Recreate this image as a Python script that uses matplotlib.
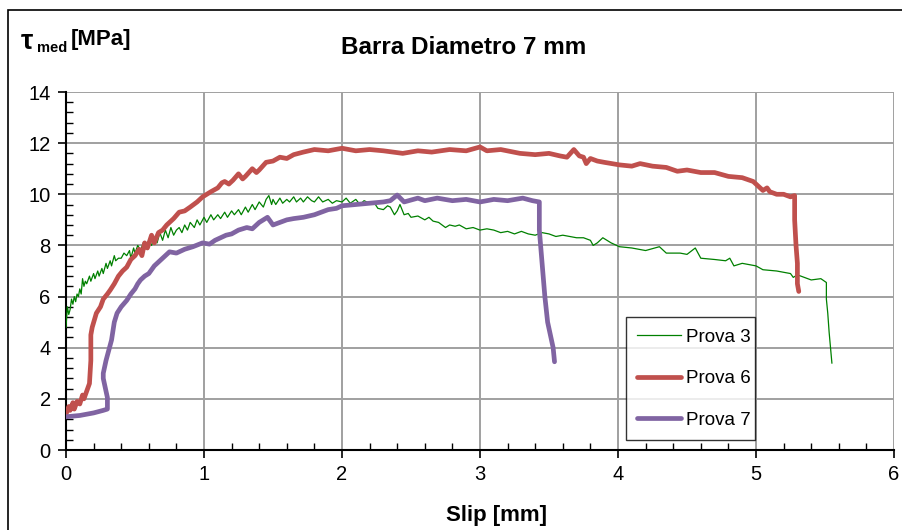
import matplotlib
matplotlib.use("Agg")
import matplotlib.pyplot as plt
from matplotlib.ticker import MultipleLocator
from matplotlib.patches import Rectangle

plt.rcParams['font.family'] = ['Liberation Sans', 'DejaVu Sans']

# slip [mm] / tau_med [MPa]
prova3_x = [0.00, 0.01, 0.02, 0.03, 0.04, 0.05, 0.06, 0.07, 0.08, 0.09, 0.10, 0.11,
            0.12, 0.13, 0.14, 0.15, 0.17, 0.18, 0.20, 0.21, 0.23, 0.24, 0.26, 0.27,
            0.29, 0.30, 0.32, 0.33, 0.35, 0.36, 0.38, 0.40, 0.42, 0.44, 0.46, 0.47,
            0.49, 0.50, 0.52, 0.54, 0.56, 0.58, 0.60, 0.62, 0.64, 0.66, 0.68, 0.70,
            0.72, 0.74, 0.76, 0.78, 0.80, 0.82, 0.84, 0.86, 0.88, 0.90, 0.93, 0.95,
            0.97, 1.00, 1.02, 1.05, 1.07, 1.10, 1.12, 1.15, 1.17, 1.20, 1.22, 1.25,
            1.27, 1.30, 1.32, 1.35, 1.37, 1.40, 1.43, 1.45, 1.47, 1.49, 1.50, 1.52,
            1.55, 1.57, 1.60, 1.62, 1.65, 1.67, 1.70, 1.72, 1.75, 1.78, 1.80, 1.83,
            1.86, 1.90, 1.93, 1.96, 2.00, 2.03, 2.06, 2.10, 2.13, 2.16, 2.20, 2.23,
            2.26, 2.30, 2.33, 2.35, 2.38, 2.40, 2.42, 2.45, 2.48, 2.50, 2.55, 2.60,
            2.63, 2.66, 2.70, 2.75, 2.78, 2.82, 2.85, 2.90, 2.95, 3.00, 3.05, 3.10,
            3.15, 3.20, 3.25, 3.30, 3.35, 3.40, 3.45, 3.50, 3.55, 3.60, 3.65, 3.70,
            3.75, 3.80, 3.82, 3.85, 3.89, 3.95, 4.01, 4.10, 4.20, 4.30, 4.35, 4.45,
            4.50, 4.56, 4.60, 4.70, 4.78, 4.81, 4.84, 4.90, 5.00, 5.05, 5.15, 5.25,
            5.27, 5.30, 5.35, 5.40, 5.47, 5.51, 5.51, 5.52, 5.53, 5.54, 5.55]
prova3_y = [4.8, 5.6, 5.3, 5.5, 5.9, 5.7, 6.0, 5.8, 6.1, 6.0, 6.3, 6.1,
            6.7, 6.4, 6.6, 6.5, 6.8, 6.6, 6.9, 6.7, 7.0, 6.8, 7.1, 6.9,
            7.3, 7.1, 7.4, 7.2, 7.6, 7.4, 7.5, 7.5, 7.7, 7.6, 7.8, 7.5,
            7.9, 7.7, 8.0, 7.8, 8.1, 7.9, 8.2, 8.0, 8.3, 8.1, 8.5, 8.2,
            8.6, 8.3, 8.7, 8.4, 8.6, 8.7, 8.5, 8.8, 8.6, 8.9, 8.7, 9.0,
            8.8, 9.1, 8.9, 9.2, 9.0, 9.2, 9.05, 9.3, 9.1, 9.35, 9.2, 9.4,
            9.2, 9.5, 9.3, 9.6, 9.4, 9.7, 9.5, 9.8, 9.95, 9.6, 9.8, 9.6,
            9.85, 9.65, 9.8, 9.7, 9.9, 9.7, 9.85, 9.7, 9.9, 9.75, 9.7, 9.9,
            9.7, 9.8, 9.65, 9.75, 9.7, 9.85, 9.65, 9.8, 9.6, 9.75, 9.65, 9.7,
            9.45, 9.4, 9.55, 9.5, 9.2, 9.35, 9.6, 9.2, 9.25, 9.1, 9.15, 9.0,
            9.1, 8.95, 8.9, 8.7, 8.8, 8.75, 8.8, 8.65, 8.7, 8.6, 8.65, 8.6,
            8.5, 8.55, 8.45, 8.55, 8.45, 8.4, 8.5, 8.45, 8.35, 8.4, 8.35, 8.3,
            8.3, 8.2, 8.0, 8.1, 8.3, 8.1, 7.95, 7.9, 7.8, 7.95, 7.7, 7.7,
            7.65, 7.9, 7.5, 7.45, 7.4, 7.5, 7.2, 7.3, 7.2, 7.05, 7.0, 6.9,
            6.75, 6.85, 6.75, 6.65, 6.7, 6.55, 5.9, 5.35, 4.6, 4.0, 3.4]

prova6_x = [0.00, 0.02, 0.03, 0.05, 0.06, 0.08, 0.10, 0.12, 0.13, 0.15, 0.17, 0.18,
            0.18, 0.19, 0.22, 0.25, 0.27, 0.30, 0.32, 0.35, 0.38, 0.41, 0.44, 0.47,
            0.50, 0.53, 0.55, 0.57, 0.59, 0.62, 0.64, 0.67, 0.70, 0.73, 0.75, 0.78,
            0.82, 0.86, 0.90, 0.95, 0.99, 1.05, 1.10, 1.13, 1.15, 1.18, 1.21, 1.25,
            1.28, 1.30, 1.35, 1.38, 1.40, 1.45, 1.50, 1.55, 1.60, 1.65, 1.72, 1.80,
            1.90, 2.00, 2.10, 2.20, 2.30, 2.44, 2.55, 2.65, 2.78, 2.90, 3.00, 3.05,
            3.15, 3.29, 3.40, 3.50, 3.58, 3.63, 3.68, 3.72, 3.75, 3.77, 3.80, 3.85,
            3.90, 4.01, 4.10, 4.16, 4.25, 4.35, 4.43, 4.50, 4.60, 4.70, 4.80, 4.90,
            4.98, 5.05, 5.08, 5.10, 5.15, 5.20, 5.25, 5.28, 5.28, 5.29, 5.30, 5.30,
            5.31]
prova6_y = [1.4, 1.7, 1.55, 1.85, 1.6, 1.9, 1.8, 2.15, 2.0, 2.3, 2.6, 3.5,
            4.5, 4.8, 5.35, 5.6, 5.9, 6.1, 6.25, 6.5, 6.8, 7.0, 7.15, 7.45,
            7.6, 7.85, 7.6, 8.1, 7.9, 8.4, 8.1, 8.5, 8.6, 8.8, 8.9, 9.05,
            9.3, 9.35, 9.5, 9.7, 9.9, 10.1, 10.25, 10.45, 10.5, 10.4, 10.55, 10.8,
            10.6, 10.7, 11.0, 10.85, 10.95, 11.25, 11.3, 11.45, 11.4, 11.55, 11.65, 11.75,
            11.7, 11.8, 11.7, 11.75, 11.7, 11.6, 11.7, 11.65, 11.75, 11.7, 11.85, 11.7,
            11.75, 11.6, 11.55, 11.6, 11.5, 11.45, 11.75, 11.5, 11.45, 11.2, 11.4, 11.3,
            11.25, 11.15, 11.1, 11.2, 11.1, 11.05, 10.9, 10.95, 10.85, 10.85, 10.7, 10.65,
            10.5, 10.15, 10.25, 10.1, 10.0, 10.0, 9.9, 9.95, 9.0, 8.0, 7.3, 6.5,
            6.2]

prova7_x = [0.00, 0.10, 0.20, 0.27, 0.30, 0.30, 0.27, 0.27, 0.29, 0.33, 0.35, 0.37,
            0.40, 0.44, 0.47, 0.50, 0.52, 0.54, 0.57, 0.60, 0.64, 0.68, 0.72, 0.75,
            0.80, 0.86, 0.92, 0.99, 1.04, 1.08, 1.12, 1.16, 1.20, 1.25, 1.31, 1.35,
            1.40, 1.46, 1.50, 1.55, 1.60, 1.65, 1.72, 1.80, 1.90, 1.96, 2.00, 2.10,
            2.20, 2.30, 2.35, 2.40, 2.45, 2.55, 2.60, 2.69, 2.80, 2.90, 3.00, 3.10,
            3.20, 3.31, 3.38, 3.43, 3.43, 3.45, 3.47, 3.49, 3.53, 3.54]
prova7_y = [1.3, 1.35, 1.45, 1.55, 1.6, 2.05, 2.8, 3.0, 3.5, 4.3, 5.0, 5.35,
            5.6, 5.85, 6.1, 6.3, 6.5, 6.65, 6.8, 6.9, 7.2, 7.4, 7.6, 7.75,
            7.7, 7.85, 7.95, 8.1, 8.05, 8.2, 8.3, 8.4, 8.45, 8.6, 8.7, 8.65,
            8.9, 9.1, 8.8, 8.9, 9.0, 9.05, 9.1, 9.2, 9.4, 9.45, 9.55, 9.6,
            9.65, 9.7, 9.75, 9.97, 9.7, 9.85, 9.75, 9.85, 9.75, 9.8, 9.7, 9.8,
            9.75, 9.85, 9.75, 9.7, 8.6, 7.3, 6.0, 5.0, 4.0, 3.45]

fig = plt.figure(figsize=(9.03, 5.30), dpi=100)
ax = fig.add_axes([66 / 903, 80 / 530, 828 / 903, 358 / 530])

ax.plot(prova3_x, prova3_y, color='#008000', lw=0.9, label='Prova 3', zorder=3)
ax.plot(prova6_x, prova6_y, color='#C0504D', lw=3.4, label='Prova 6', zorder=4,
        solid_joinstyle='round', solid_capstyle='round')
ax.plot(prova7_x, prova7_y, color='#8064A2', lw=3.4, label='Prova 7', zorder=5,
        solid_joinstyle='round', solid_capstyle='round')

ax.set_xlim(0, 6)
ax.set_ylim(0, 14)
ax.xaxis.set_major_locator(MultipleLocator(1))
ax.xaxis.set_minor_locator(MultipleLocator(0.2))
ax.yaxis.set_major_locator(MultipleLocator(2))
ax.yaxis.set_minor_locator(MultipleLocator(0.4))
ax.grid(True, which='major', color='#A0A0A0', lw=1.4)
ax.set_axisbelow(True)

for s in ['top', 'right']:
    ax.spines[s].set_visible(False)
for s in ['left', 'bottom']:
    ax.spines[s].set_linewidth(1.5)
ax.tick_params(which='major', direction='out', length=6, width=1.2, labelsize=14.5, pad=5)
ax.tick_params(which='minor', direction='in', length=5, width=1.0)

leg = ax.legend(loc='lower left', bbox_to_anchor=(0.676, 0.028, 0.156, 0.358),
                mode='expand', borderaxespad=0, fontsize=13.5, frameon=True,
                fancybox=False, edgecolor='black', handlelength=2.35,
                labelspacing=1.3, borderpad=0.6, handletextpad=0.25)
leg.get_frame().set_linewidth(1.0)

fig.text(464 / 903, 1 - 48 / 530, 'Barra Diametro 7 mm', ha='center', va='center',
         fontsize=17.5, fontweight='bold')
fig.text(497 / 903, 1 - 515 / 530, 'Slip [mm]', ha='center', va='center',
         fontsize=16, fontweight='bold')

# y axis label in the top-left corner
fig.text(21 / 903, 1 - 42 / 530, 'τ', ha='left', va='center', fontsize=20, fontweight='bold')
fig.text(37 / 903, 1 - 48 / 530, 'med', ha='left', va='center', fontsize=10.5, fontweight='bold')
fig.text(71 / 903, 1 - 39 / 530, '[MPa]', ha='left', va='center', fontsize=16, fontweight='bold')

# outer frame, open on the right and bottom edges
fig.patches.append(Rectangle((8 / 903, -0.1), 1.2, 1.1 - 10 / 530, transform=fig.transFigure,
                             fill=False, edgecolor='black', lw=1.2, clip_on=False))

fig.savefig('out.png', dpi=100)
